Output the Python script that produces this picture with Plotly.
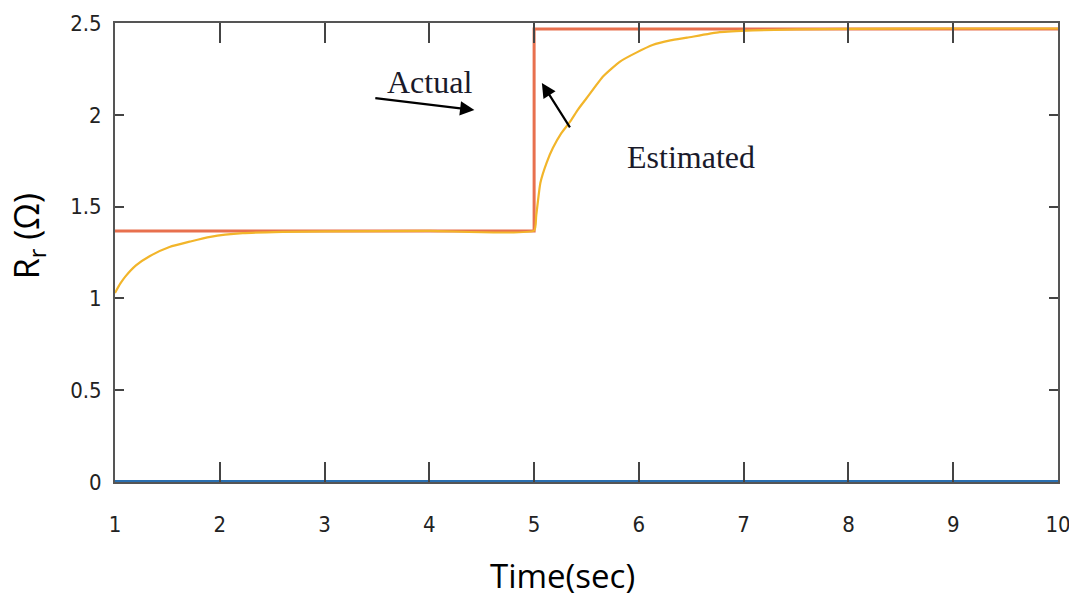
import plotly.graph_objects as go

# ---- data ----
zero_t = [1, 10]
zero_v = [0, 0]

actual_t = [1, 5, 5, 10]
actual_v = [1.367, 1.367, 2.468, 2.468]

est_t = [1.0, 1.05, 1.1, 1.2, 1.33, 1.52, 1.72, 1.91, 2.22, 2.6, 3.0, 4.0, 5.0,
         5.02, 5.06, 5.12, 5.18, 5.26, 5.34, 5.42, 5.5, 5.66, 5.82, 5.98, 6.13,
         6.3, 6.46, 6.77, 7.09, 7.5, 8.0, 9.0, 10.0]
est_v = [1.03, 1.08, 1.12, 1.18, 1.23, 1.28, 1.31, 1.335, 1.355, 1.362, 1.365, 1.368, 1.37,
         1.45, 1.63, 1.74, 1.82, 1.90, 1.96, 2.03, 2.09, 2.21, 2.29, 2.34, 2.38,
         2.405, 2.42, 2.45, 2.46, 2.465, 2.468, 2.47, 2.47]

x_ticks = [1, 2, 3, 4, 5, 6, 7, 8, 9, 10]
y_ticks = [0, 0.5, 1, 1.5, 2, 2.5]
y_tick_text = ["0", "0.5", "1", "1.5", "2", "2.5"]

fig = go.Figure()
fig.add_trace(go.Scatter(x=zero_t, y=zero_v, mode="lines",
                         line=dict(color="#2a6fb0", width=4), showlegend=False))
fig.add_trace(go.Scatter(x=actual_t, y=actual_v, mode="lines",
                         line=dict(color="#e8704e", width=3), showlegend=False))
fig.add_trace(go.Scatter(x=est_t, y=est_v, mode="lines",
                         line=dict(color="#f2b52a", width=2.2, shape="spline", smoothing=0.5),
                         showlegend=False))

tick_font = dict(family="Liberation Sans Narrow, DejaVu Sans Condensed, Arial Narrow, sans-serif",
                 size=22, color="#222222")

fig.update_xaxes(range=[1, 10], tickvals=x_ticks, ticks="inside", ticklen=20, tickwidth=1.5,
                 tickcolor="#444444", showline=True, linecolor="#555555", linewidth=2,
                 mirror="allticks", showgrid=False, zeroline=False, tickfont=tick_font,
                 ticklabelstandoff=22, automargin=False, ticklabeloverflow="allow")
fig.update_yaxes(range=[0, 2.5], tickvals=y_ticks, ticktext=y_tick_text, ticks="inside",
                 ticklen=9, tickwidth=2, tickcolor="#444444", showline=True,
                 linecolor="#555555", linewidth=2, mirror="allticks", showgrid=False,
                 zeroline=False, tickfont=tick_font, ticklabelstandoff=7, automargin=False)

serif = "Liberation Serif, DejaVu Serif, serif"
sans = "Open Sans, Liberation Sans, sans-serif"

fig.update_layout(
    width=1069, height=599, autosize=False,
    margin=dict(l=115, r=11, t=23, b=117),
    plot_bgcolor="white", paper_bgcolor="white",
    annotations=[
        dict(x=4.0, y=2.18, xref="x", yref="y", text="Actual", showarrow=False,
             font=dict(family=serif, size=32, color="#1a1a2a")),
        dict(x=6.5, y=1.77, xref="x", yref="y", text="Estimated", showarrow=False,
             font=dict(family=serif, size=32, color="#1a1a2a")),
        dict(x=4.43, y=2.026, ax=3.47, ay=2.092, xref="x", yref="y", axref="x", ayref="y",
             text="", showarrow=True, arrowhead=2, arrowsize=1.3, arrowwidth=2.2,
             arrowcolor="#000000"),
        dict(x=5.074, y=2.173, ax=5.351, ay=1.923, xref="x", yref="y", axref="x", ayref="y",
             text="", showarrow=True, arrowhead=2, arrowsize=1.3, arrowwidth=2.2,
             arrowcolor="#000000"),
        dict(x=0.475, y=-0.203, xref="paper", yref="paper", text="Time(sec)", showarrow=False,
             font=dict(family=sans, size=33, color="#000000"), xanchor="center", yanchor="middle"),
        dict(x=-0.092, y=0.536, xref="paper", yref="paper", text="R<sub>r</sub> (Ω)",
             showarrow=False, textangle=-90,
             font=dict(family=sans, size=34, color="#000000"), xanchor="center", yanchor="middle"),
    ],
)

fig.write_html("out.html", config={"displayModeBar": False},
               post_script="document.body.style.margin='0';document.body.style.overflow='hidden';")
